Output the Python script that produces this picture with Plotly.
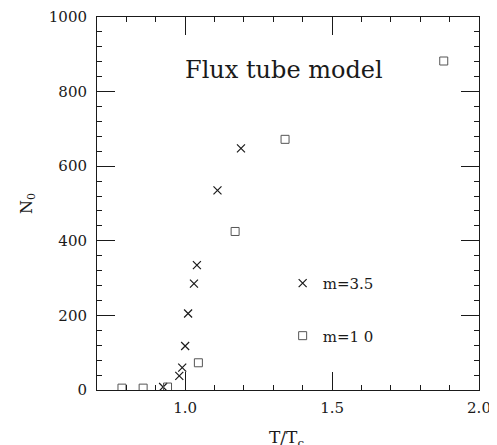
import plotly.graph_objects as go

# m = 3.5 (crosses)
t_m35 = [0.925, 0.98, 0.99, 1.00, 1.01, 1.03, 1.04, 1.11, 1.19]
n_m35 = [8, 38, 60, 118, 205, 285, 335, 535, 648]

# m = 1.0 (squares)
t_m10 = [0.785, 0.857, 0.94, 1.045, 1.17, 1.34, 1.88]
n_m10 = [5, 5, 8, 73, 425, 672, 882]

x_ticks = [1.0, 1.5, 2.0]
x_ticklabels = ["1.0", "1.5", "2.0"]
y_ticks = [0, 200, 400, 600, 800, 1000]

FONT = "DejaVu Serif"
INK = "#1a1a1a"

fig = go.Figure()
fig.add_trace(go.Scatter(
    x=t_m35, y=n_m35, mode="markers", name="m=3.5", legendgroup="a",
    marker=dict(symbol="x-thin", size=8, line=dict(width=1.2, color=INK), color=INK),
))
fig.add_trace(go.Scatter(
    x=t_m10, y=n_m10, mode="markers", name="m=1 0", legendgroup="b",
    marker=dict(symbol="square-open", size=8, line=dict(width=1, color="#555"), color="#555"),
))

fig.add_annotation(
    text="Flux tube model", xref="paper", yref="paper", x=0.49, y=0.9,
    showarrow=False, font=dict(family=FONT, size=24, color=INK),
)
# x-axis title placed as an annotation to match the reference position
fig.add_annotation(
    text="T/T<sub>c</sub>", xref="paper", yref="paper", x=0.495, y=-0.094,
    xanchor="center", yanchor="top", showarrow=False,
    font=dict(family=FONT, size=17, color=INK),
)

axis_common = dict(
    showline=True, linecolor=INK, linewidth=1, mirror="ticks",
    ticks="inside", ticklen=18, tickcolor=INK, tickwidth=1,
    showgrid=False, zeroline=False, automargin=False,
    tickfont=dict(family=FONT, size=15, color=INK),
)

fig.update_xaxes(
    range=[0.7, 2.0], tickvals=x_ticks, ticktext=x_ticklabels,
    ticklabelstandoff=4,
    minor=dict(dtick=0.1, tick0=0.7, ticks="inside", ticklen=5, tickcolor=INK, showgrid=False),
    **axis_common,
)
fig.update_yaxes(
    range=[0, 1000], tickvals=y_ticks,
    ticklabelstandoff=6,
    minor=dict(dtick=40, tick0=0, ticks="inside", ticklen=5, tickcolor=INK, showgrid=False),
    title=dict(text="N<sub>0</sub>", font=dict(family=FONT, size=16, color=INK), standoff=12),
    **axis_common,
)

fig.update_layout(
    width=489, height=437,
    margin=dict(l=89, r=18, t=9, b=55),
    paper_bgcolor="white", plot_bgcolor="white",
    showlegend=True,
    legend=dict(
        x=0.486, y=0.33, xanchor="left", yanchor="top",
        font=dict(family=FONT, size=15, color=INK),
        tracegroupgap=30, traceorder="grouped",
        bgcolor="rgba(0,0,0,0)",
    ),
)

fig.write_html("out.html")
